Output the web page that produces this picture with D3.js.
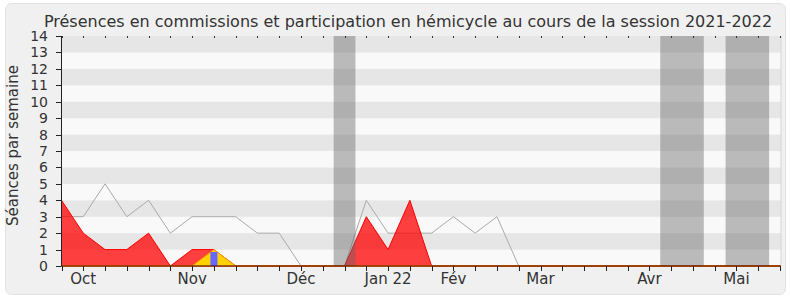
<!DOCTYPE html>
<html>
<head>
<meta charset="utf-8">
<script src="https://cdn.jsdelivr.net/npm/d3@7"></script>
<style>
  body { margin: 0; background: #fff; }
  text { font-family: "DejaVu Sans", sans-serif; fill: #333; }
</style>
</head>
<body>
<div id="chart"></div>
<script>
// semaines de la session (index 0 = fin septembre 2021)
const semaines = d3.range(34);
const moisLabels = ["Oct", "Nov", "Déc", "Jan 22", "Fév", "Mar", "Avr", "Mai"];
const moisSemaines = [1, 6, 11, 15, 18, 22, 27, 31];
// vacances parlementaires : [première semaine, dernière semaine]
const vacances = [[13, 13], [28, 29], [31, 32]];

// ligne grise
const presencesCommission = [3, 3, 5, 3, 4, 2, 3, 3, 3, 2, 2, 0, 0, 0, 4, 2, 2, 2, 3, 2, 3, 0, 0, 0, 0, 0, 0, 0, 0, 0, 0, 0, 0, 0];
// aire rouge
const presencesHemicycle = [4, 2, 1, 1, 2, 0, 1, 1, 0, 0, 0, 0, 0, 0, 3, 1, 4, 0, 0, 0, 0, 0, 0, 0, 0, 0, 0, 0, 0, 0, 0, 0, 0, 0];
// aire jaune
const interventions = [0, 0, 0, 0, 0, 0, 0, 1, 0, 0, 0, 0, 0, 0, 0, 0, 0, 0, 0, 0, 0, 0, 0, 0, 0, 0, 0, 0, 0, 0, 0, 0, 0, 0];
// barres bleues
const questions = [0, 0, 0, 0, 0, 0, 0, 0.85, 0, 0, 0, 0, 0, 0, 0, 0, 0, 0, 0, 0, 0, 0, 0, 0, 0, 0, 0, 0, 0, 0, 0, 0, 0, 0];

const width = 790, height = 300;
const yTicks = d3.range(0, 15);

const x = d3.scaleLinear().domain([0, 33]).range([61.5, 780]);
const y = d3.scaleLinear().domain([0, 14]).range([266, 36]);

const svg = d3.select("#chart").append("svg")
    .attr("width", width)
    .attr("height", height);

// fond
svg.append("rect")
    .attr("x", 5.5).attr("y", 3.5)
    .attr("width", 780).attr("height", 291)
    .attr("rx", 6)
    .attr("fill", "#f0f0f0")
    .attr("stroke", "#e2e2e2");

// bandes horizontales
svg.append("g")
    .selectAll("rect")
    .data(d3.range(0, 14))
    .join("rect")
    .attr("x", x(0))
    .attr("y", d => y(d + 1))
    .attr("width", 781 - x(0))
    .attr("height", d => y(d) - y(d + 1))
    .attr("fill", d => d % 2 ? "#e6e6e6" : "#f9f9f9");

svg.append("line")
    .attr("x1", 781).attr("x2", 781)
    .attr("y1", y(14)).attr("y2", y(0))
    .attr("stroke", "#d6d6d6");

// ligne grise
svg.append("path")
    .datum(presencesCommission)
    .attr("fill", "none")
    .attr("stroke", "#aaa")
    .attr("stroke-width", 1)
    .attr("d", d3.line().x((d, i) => x(i)).y(d => y(d)));

// aire rouge
svg.append("path")
    .datum(presencesHemicycle)
    .attr("fill", "red")
    .attr("fill-opacity", 0.75)
    .attr("stroke", "red")
    .attr("stroke-width", 1)
    .attr("d", d3.area().x((d, i) => x(i)).y0(y(0)).y1(d => y(d)));

// aire jaune
svg.append("path")
    .datum(interventions)
    .attr("fill", "#ffd200")
    .attr("stroke", "#ff9a00")
    .attr("stroke-width", 1)
    .attr("d", d3.area().x((d, i) => x(i)).y0(y(0)).y1(d => y(d)));

// barres bleues
svg.append("g")
    .selectAll("rect")
    .data(questions.map((v, i) => ({ i, v })).filter(d => d.v > 0))
    .join("rect")
    .attr("x", d => x(d.i) - 3.5)
    .attr("width", 7)
    .attr("y", d => y(d.v))
    .attr("height", d => y(0) - y(d.v))
    .attr("fill", "#6666ff");

// vacances
svg.append("g")
    .selectAll("rect")
    .data(vacances)
    .join("rect")
    .attr("x", d => x(d[0] - 0.5))
    .attr("width", d => x(d[1] + 0.5) - x(d[0] - 0.5))
    .attr("y", y(14))
    .attr("height", y(0) - y(14))
    .attr("fill", "rgb(100,100,100)")
    .attr("fill-opacity", 0.42);

// axe x
const xAxis = svg.append("g").attr("transform", `translate(0,${y(0)})`);
xAxis.append("line")
    .attr("x1", x(0)).attr("x2", 781)
    .attr("stroke", "#400");
xAxis.selectAll(".tick")
    .data(semaines)
    .join("line")
    .attr("x1", d => Math.round(x(d)) + 0.5).attr("x2", d => Math.round(x(d)) + 0.5)
    .attr("y1", 0).attr("y2", 5)
    .attr("stroke", "#222");
xAxis.selectAll("text")
    .data(moisLabels)
    .join("text")
    .attr("x", (d, i) => x(moisSemaines[i]))
    .attr("y", 18)
    .attr("text-anchor", "middle")
    .style("font-size", "15px")
    .text(d => d);

// petites graduations en haut
svg.append("g")
    .selectAll("line")
    .data(semaines)
    .join("line")
    .attr("x1", d => Math.round(x(d)) + 0.5).attr("x2", d => Math.round(x(d)) + 0.5)
    .attr("y1", y(14)).attr("y2", y(14) + 2)
    .attr("stroke", "#333");

// axe y
const yAxis = svg.append("g");
yAxis.append("line")
    .attr("x1", x(0)).attr("x2", x(0))
    .attr("y1", y(14)).attr("y2", y(0))
    .attr("stroke", "#222");
yAxis.selectAll(".tick")
    .data(yTicks)
    .join("line")
    .attr("x1", 56).attr("x2", x(0))
    .attr("y1", d => Math.round(y(d)) + 0.5).attr("y2", d => Math.round(y(d)) + 0.5)
    .attr("stroke", "#222");
yAxis.selectAll("text")
    .data(yTicks)
    .join("text")
    .attr("x", 48)
    .attr("y", d => y(d))
    .attr("dy", "0.36em")
    .attr("text-anchor", "end")
    .style("font-size", "14px")
    .text(d => d);

svg.append("text")
    .attr("transform", "translate(18,145.5) rotate(-90)")
    .attr("text-anchor", "middle")
    .style("font-size", "15px")
    .text("Séances par semaine");

svg.append("text")
    .attr("x", 408)
    .attr("y", 27)
    .attr("text-anchor", "middle")
    .style("font-size", "16px")
    .text("Présences en commissions et participation en hémicycle au cours de la session 2021-2022");
</script>
</body>
</html>
